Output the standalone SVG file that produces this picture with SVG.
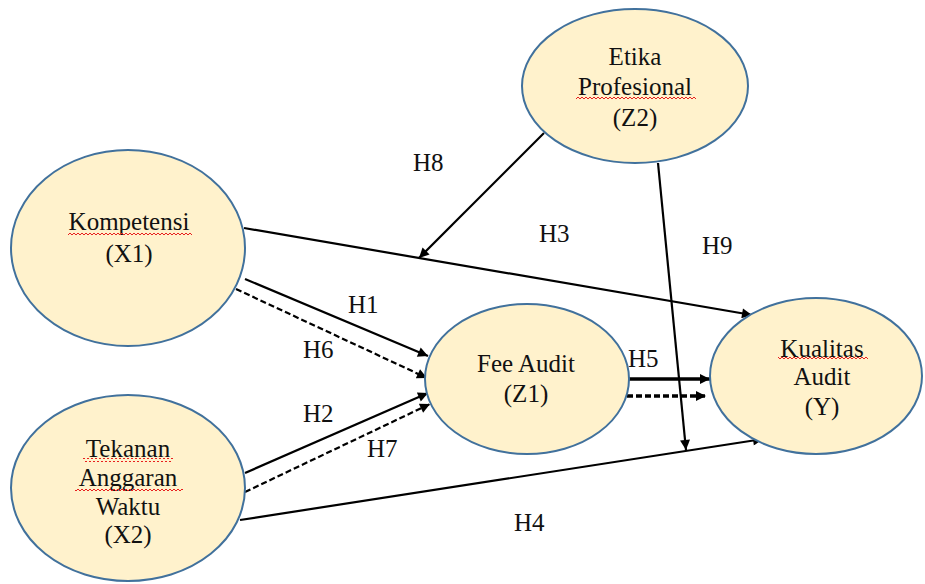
<svg xmlns="http://www.w3.org/2000/svg" width="925" height="584" viewBox="0 0 925 584" font-family="Liberation Serif, Times New Roman, DejaVu Serif, serif">
<style>
.node ellipse{fill:#FFF2CC;stroke:#41719C;stroke-width:2}
text{font-size:25px;fill:#111}
.ctr{text-anchor:middle}
.c{stroke:#000;stroke-width:2.2;fill:none}
.d{stroke-dasharray:6 3}
.t{stroke-width:3.4}
.sq{fill:url(#wave)}
</style>
<defs>
<marker id="arr" viewBox="0 0 10 10" refX="10" refY="5" markerWidth="12" markerHeight="10" markerUnits="userSpaceOnUse" orient="auto">
<path d="M0,0 L10,5 L0,10 z" fill="#000"/>
</marker>
<pattern id="wave" patternUnits="userSpaceOnUse" width="4" height="4">
<path d="M0,3 L2,1 L4,3" fill="none" stroke="#E8201E" stroke-width="1"/>
</pattern>
</defs>
<rect width="925" height="584" fill="#fff"/>
<g id="connectors">
<line class="c" x1="244" y1="228" x2="752" y2="315" marker-end="url(#arr)"/>
<line class="c" x1="544" y1="133" x2="419" y2="258" marker-end="url(#arr)"/>
<line class="c" x1="658" y1="163" x2="686" y2="450" marker-end="url(#arr)"/>
<line class="c" x1="240" y1="520" x2="763" y2="439" marker-end="url(#arr)"/>
<line class="c" x1="245" y1="279" x2="428" y2="356" marker-end="url(#arr)"/>
<line class="c d" x1="236" y1="289" x2="427" y2="378" marker-end="url(#arr)"/>
<line class="c" x1="245" y1="473" x2="428" y2="393" marker-end="url(#arr)"/>
<line class="c d" x1="245" y1="492" x2="430" y2="404" marker-end="url(#arr)"/>
<line class="c t" x1="629" y1="379" x2="710" y2="379" marker-end="url(#arr)"/>
<line class="c t d" x1="627" y1="396" x2="706" y2="396" marker-end="url(#arr)"/>
<text x="413" y="171">H8</text>
<text x="539" y="242">H3</text>
<text x="702" y="254">H9</text>
<text x="348" y="313">H1</text>
<text x="303" y="358">H6</text>
<text x="303" y="422">H2</text>
<text x="367" y="457">H7</text>
<text x="628" y="367">H5</text>
<text x="514" y="531">H4</text>
</g>
<g id="etika" class="node">
<ellipse cx="635" cy="86" rx="113" ry="77"/>
<text class="ctr" x="635" y="65">Etika</text>
<text class="ctr" x="635" y="95">Profesional</text>
<rect class="sq" x="576" y="96" width="120" height="4"/>
<text class="ctr" x="635" y="126">(Z2)</text>
</g>
<g id="kompetensi" class="node">
<ellipse cx="128" cy="248" rx="117" ry="98"/>
<text class="ctr" x="129" y="230">Kompetensi</text>
<rect class="sq" x="68" y="231" width="124" height="4"/>
<text class="ctr" x="129" y="262">(X1)</text>
</g>
<g id="tekanan" class="node">
<ellipse cx="128" cy="488" rx="117" ry="93"/>
<text class="ctr" x="128" y="457">Tekanan</text>
<rect class="sq" x="83" y="458" width="90" height="4"/>
<text class="ctr" x="128" y="486">Anggaran</text>
<rect class="sq" x="75" y="488" width="108" height="4"/>
<text class="ctr" x="128" y="515">Waktu</text>
<text class="ctr" x="128" y="543">(X2)</text>
</g>
<g id="fee" class="node">
<ellipse cx="527" cy="379" rx="102" ry="75"/>
<text class="ctr" x="526" y="372">Fee Audit</text>
<text class="ctr" x="526" y="402">(Z1)</text>
</g>
<g id="kualitas" class="node">
<ellipse cx="816" cy="376" rx="106" ry="78"/>
<text class="ctr" x="822" y="357">Kualitas</text>
<rect class="sq" x="778" y="357" width="90" height="4"/>
<text class="ctr" x="822" y="385">Audit</text>
<text class="ctr" x="822" y="415">(Y)</text>
</g>
</svg>
